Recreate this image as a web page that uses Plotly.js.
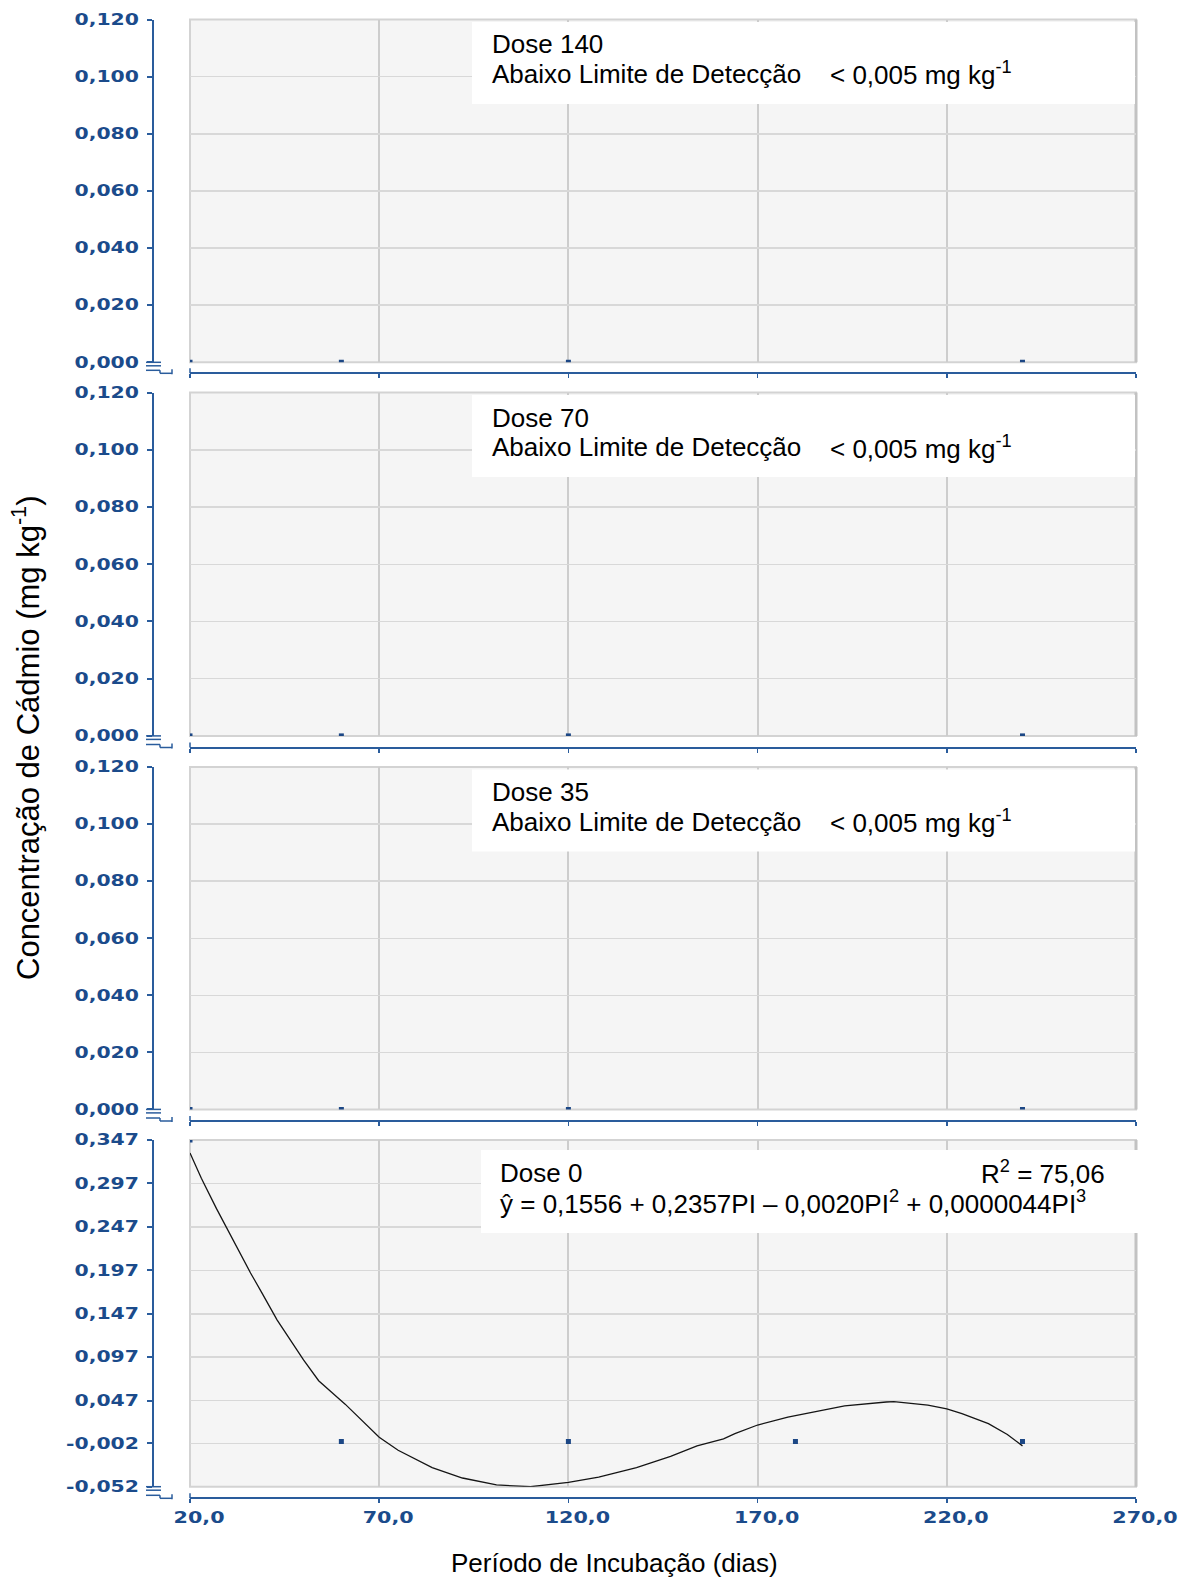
<!DOCTYPE html>
<html>
<head>
<meta charset="utf-8">
<script src="https://cdn.plot.ly/plotly-3.0.1.min.js"></script>
<style>
  html, body { margin: 0; padding: 0; background: #ffffff; }
  #chart { width: 1193px; height: 1578px; }
  /* wide bold tick numerals */
  g.ytick, g.y2tick, g.y3tick, g.y4tick {
    transform-box: fill-box; transform-origin: 100% 50%; transform: scaleX(1.36);
  }
  g.xtick, g.x2tick, g.x3tick, g.x4tick {
    transform-box: fill-box; transform-origin: 50% 50%; transform: scaleX(1.38);
  }
</style>
</head>
<body>
<div id="chart"></div>
<script>
// Sampling days of the incubation
const incubationDays = [20, 60, 120, 180, 240];

// Cadmium concentration (mg kg-1) per dose; below detection limit plotted at zero
const cdDose140 = [0, 0, 0, null, 0];
const cdDose70  = [0, 0, 0, null, 0];
const cdDose35  = [0, 0, 0, null, 0];
const cdDose0   = [0.347, 0, 0, 0, 0];

// Fitted cubic curve for Dose 0
const fitDays  = [20, 23, 27, 30, 36, 39, 43, 50, 54, 61, 66, 70, 75, 79, 84, 92, 101, 110,
                  120, 128, 138, 147, 154, 161, 164, 170, 178, 185, 193, 204, 206, 215, 220,
                  224, 231, 236, 240];
const fitDose0 = [0.332, 0.303, 0.268, 0.243, 0.194, 0.171, 0.140, 0.094, 0.070, 0.043, 0.022,
                  0.005, -0.010, -0.019, -0.030, -0.042, -0.050, -0.052, -0.047, -0.041, -0.030,
                  -0.017, -0.005, 0.003, 0.009, 0.019, 0.028, 0.034, 0.041, 0.0455, 0.046, 0.042,
                  0.0375, 0.032, 0.0205, 0.008, -0.005];

// Axis ticks
const xTickVals = [20, 70, 120, 170, 220, 270];
const xTickText = ['20,0', '70,0', '120,0', '170,0', '220,0', '270,0'];
const yTickVals = [0, 0.02, 0.04, 0.06, 0.08, 0.10, 0.12];
const yTickText = ['0,000', '0,020', '0,040', '0,060', '0,080', '0,100', '0,120'];
const yTickValsDose0 = [-0.052, -0.002, 0.047, 0.097, 0.147, 0.197, 0.247, 0.297, 0.347];
const yTickTextDose0 = ['-0,052', '-0,002', '0,047', '0,097', '0,147', '0,197', '0,247', '0,297', '0,347'];

// Panel texts
const doseLabels = ['Dose 140', 'Dose 70', 'Dose 35', 'Dose 0'];
const belowLimit = 'Abaixo Limite de Detecção';
const limitValue = '< 0,005 mg kg<sup>-1</sup>';
const fitR2 = 'R<sup>2</sup> = 75,06';
const fitEquation = 'ŷ = 0,1556 + 0,2357PI – 0,0020PI<sup>2</sup> + 0,0000044PI<sup>3</sup>';
const xTitle = 'Período de Incubação (dias)';
const yTitle = 'Concentração de Cádmio (mg kg<sup>-1</sup>)';

// ---- geometry (page pixels) ----
const W = 1193, H = 1578;
const fx = px => px / W;
const fy = px => 1 - px / H;

const plotLeft = 190, plotRight = 1136, yLineX = 153;
const panelTop    = [19.5, 392.6, 767.1, 1140];
const panelBottom = [362.3, 735.9, 1109.4, 1486.7];
const xLineY      = [373.3, 747.5, 1121, 1498.3];

const LINE_BLUE = '#2a5c9c';
const TEXT_BLUE = '#1b4b8b';
const MARK_BLUE = '#1c4785';

const tickFont = { family: 'DejaVu Sans, Verdana, sans-serif', size: 15, color: TEXT_BLUE, weight: 'bold' };

const seriesCd = [cdDose140, cdDose70, cdDose35, cdDose0];

const layout = {
  width: W, height: H, autosize: false,
  margin: { l: 0, r: 0, t: 0, b: 0, pad: 0 },
  paper_bgcolor: '#ffffff',
  plot_bgcolor: '#f5f5f5',
  showlegend: false,
  font: { family: 'Liberation Sans, Arial, sans-serif', color: '#000000' },
  shapes: [],
  annotations: []
};

const traces = [];

for (let i = 0; i < 4; i++) {
  const n = i + 1;
  const xid = n === 1 ? 'x' : 'x' + n;
  const yid = n === 1 ? 'y' : 'y' + n;
  const xName = n === 1 ? 'xaxis' : 'xaxis' + n;
  const yName = n === 1 ? 'yaxis' : 'yaxis' + n;
  const last = i === 3;

  layout[xName] = {
    domain: [fx(plotLeft), fx(plotRight)],
    range: [20, 270],
    anchor: 'free', position: fy(xLineY[i]),
    showline: true, linecolor: LINE_BLUE, linewidth: 2,
    ticks: 'outside', ticklen: 4, tickwidth: 1.5, tickcolor: LINE_BLUE,
    tickmode: 'array', tickvals: xTickVals, ticktext: xTickText,
    showticklabels: last, tickfont: tickFont,
    ticklabelshift: 9, ticklabelstandoff: 2,
    showgrid: true, gridcolor: '#cdcdcd', gridwidth: 2,
    zeroline: false, fixedrange: true
  };

  layout[yName] = {
    domain: [fy(panelBottom[i]), fy(panelTop[i])],
    range: last ? [-0.052, 0.347] : [0, 0.12],
    anchor: 'free', position: fx(yLineX),
    showline: true, linecolor: LINE_BLUE, linewidth: 2,
    ticks: 'outside', ticklen: 5, tickwidth: 2, tickcolor: LINE_BLUE,
    tickmode: 'array',
    tickvals: last ? yTickValsDose0 : yTickVals,
    ticktext: last ? yTickTextDose0 : yTickText,
    tickfont: tickFont, ticklabelstandoff: 5,
    showgrid: true, gridcolor: '#d8d8d8', gridwidth: 1.5,
    zeroline: false, fixedrange: true
  };

  if (last) {
    traces.push({
      type: 'scatter', mode: 'lines', x: fitDays, y: fitDose0,
      xaxis: xid, yaxis: yid,
      line: { color: '#151515', width: 1.3 }, hoverinfo: 'skip'
    });
  }
  traces.push({
    type: 'scatter', mode: 'markers', x: incubationDays, y: seriesCd[i],
    xaxis: xid, yaxis: yid,
    marker: { symbol: 'square', size: 5, color: MARK_BLUE }
  });

  // light frame round the plotting area
  layout.shapes.push({
    type: 'rect', xref: xid + ' domain', yref: yid + ' domain',
    x0: 0, x1: 1, y0: 0, y1: 1, layer: 'below',
    line: { color: '#d3d3d3', width: 2 }, fillcolor: 'rgba(0,0,0,0)'
  });
  layout.shapes.push({
    type: 'line', xref: xid + ' domain', yref: yid + ' domain',
    x0: 1, x1: 1, y0: 0, y1: 1, layer: 'below',
    line: { color: '#c2c2c2', width: 3 }
  });

  // axis-break marks at the lower left corner
  const yb = panelBottom[i], ya = xLineY[i];
  const brk = [
    [146, yb, 161, yb],
    [146, yb + 3.5, 161, yb + 3.5],
    [146, ya - 3, 160, ya - 3],
    [160, ya - 3, 160, ya],
    [160, ya, 172, ya],
    [172, ya - 4, 172, ya + 1],
    [plotLeft, ya - 5, plotLeft, ya]
  ];
  brk.forEach(s => layout.shapes.push({
    type: 'line', xref: 'paper', yref: 'paper', layer: 'above',
    x0: fx(s[0]), y0: fy(s[1]), x1: fx(s[2]), y1: fy(s[3]),
    line: { color: LINE_BLUE, width: 1.5 }
  }));

  // white label box
  const box = last ? [481, 1150, 1143, 1233] : [472, panelTop[i] + 2.5, 1135, panelTop[i] + 84.5];
  layout.shapes.push({
    type: 'rect', xref: 'paper', yref: 'paper', layer: 'above',
    x0: fx(box[0]), x1: fx(box[2]), y0: fy(box[3]), y1: fy(box[1]),
    line: { width: 0 }, fillcolor: '#ffffff'
  });

  const textFont = { family: 'Liberation Sans, Arial, sans-serif', size: 26, color: '#000000' };
  const tx = last ? 498 : 490;
  const l1 = box[1] + 22.5, l2 = box[1] + 52;
  const ann = (x, y, text, xanchor) => layout.annotations.push({
    xref: 'paper', yref: 'paper', x: fx(x), y: fy(y), text: text,
    xanchor: xanchor || 'left', yanchor: 'middle', showarrow: false, font: textFont
  });
  ann(tx, l1, doseLabels[i]);
  if (last) {
    ann(1106.5, l1, fitR2, 'right');
    ann(tx, l2, fitEquation);
  } else {
    ann(tx, l2, belowLimit);
    ann(827.5, l2, limitValue);
  }
}

// axis titles
layout.annotations.push({
  xref: 'paper', yref: 'paper', x: fx(614), y: fy(1563), text: xTitle,
  xanchor: 'center', yanchor: 'middle', showarrow: false,
  font: { family: 'Liberation Sans, Arial, sans-serif', size: 26, color: '#000000' }
});
layout.annotations.push({
  xref: 'paper', yref: 'paper', x: fx(26), y: fy(738), text: yTitle,
  textangle: -90, xanchor: 'center', yanchor: 'middle', showarrow: false,
  font: { family: 'Liberation Sans, Arial, sans-serif', size: 31, color: '#000000' }
});

Plotly.newPlot('chart', traces, layout, { staticPlot: true, displayModeBar: false });
</script>
</body>
</html>
